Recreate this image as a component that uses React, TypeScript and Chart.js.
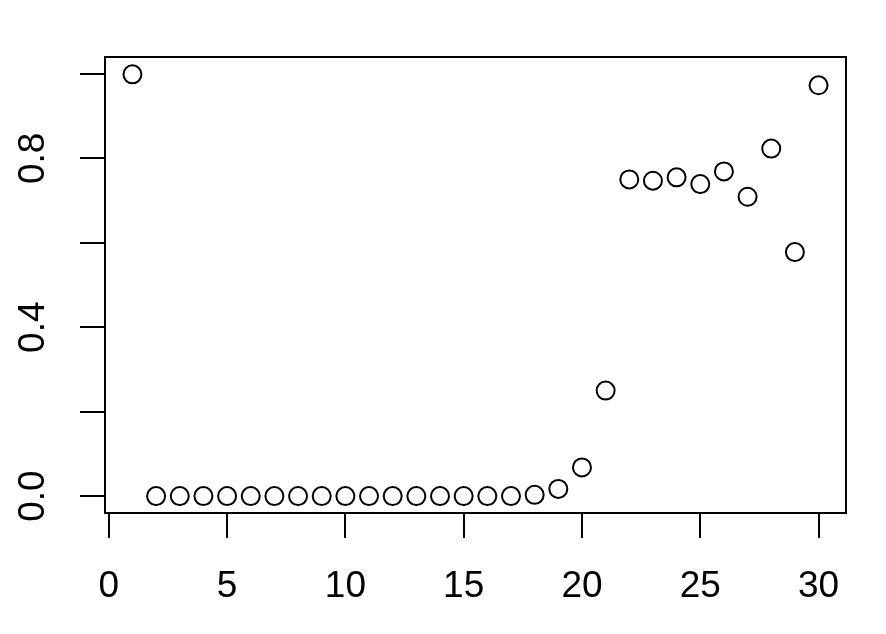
import React, { useEffect, useRef } from "react";
import { Chart, registerables } from "chart.js";

Chart.register(...registerables);

const xValues: number[] = [1, 2, 3, 4, 5, 6, 7, 8, 9, 10, 11, 12, 13, 14, 15, 16, 17, 18, 19, 20, 21, 22, 23, 24, 25, 26, 27, 28, 29, 30];
const yValues: number[] = [0.999, 0, 0, 0, 0, 0, 0, 0, 0, 0, 0, 0, 0, 0, 0, 0, 0, 0.003, 0.017, 0.068, 0.25, 0.75, 0.747, 0.755, 0.739, 0.769, 0.709, 0.823, 0.578, 0.973];
const xTicks: number[] = [0, 5, 10, 15, 20, 25, 30];
const yTicks: number[] = [0, 0.2, 0.4, 0.6, 0.8, 1.0];
const yLabelTicks: number[] = [0, 0.4, 0.8];

const FONT = "'Liberation Sans', Arial, sans-serif";

export default function App() {
  const ref = useRef<HTMLCanvasElement | null>(null);
  useEffect(() => {
    if (!ref.current) return;
    const boxPlugin = {
      id: "rbox",
      afterDraw(chart: any) {
        const { ctx, chartArea } = chart;
        ctx.save();
        ctx.strokeStyle = "#000";
        ctx.lineWidth = 2;
        ctx.strokeRect(chartArea.left, chartArea.top, chartArea.right - chartArea.left, chartArea.bottom - chartArea.top);
        const ys = chart.scales.y;
        ctx.fillStyle = "#000";
        ctx.font = `37px ${FONT}`;
        ctx.textAlign = "center";
        ctx.textBaseline = "middle";
        for (const v of yLabelTicks) {
          const py = ys.getPixelForValue(v);
          ctx.save();
          ctx.translate(34, py);
          ctx.rotate(-Math.PI / 2);
          ctx.fillText(v.toFixed(1), 0, 0);
          ctx.restore();
        }
        ctx.restore();
      },
    };
    const chart = new Chart(ref.current, {
      type: "scatter",
      data: {
        datasets: [
          {
            data: xValues.map((x, i) => ({ x, y: yValues[i] })),
            pointStyle: "circle",
            pointRadius: 9,
            pointBorderWidth: 2,
            pointBackgroundColor: "rgba(0,0,0,0)",
            pointBorderColor: "#000",
            clip: false as any,
          },
        ],
      },
      options: {
        animation: false,
        responsive: false,
        events: [],
        layout: { padding: { top: 57, right: 40, left: 0, bottom: 0 } },
        plugins: { legend: { display: false }, tooltip: { enabled: false } },
        scales: {
          x: {
            type: "linear",
            min: -0.16,
            max: 31.16,
            afterBuildTicks: (s: any) => {
              s.ticks = xTicks.map((v) => ({ value: v }));
            },
            afterFit: (s: any) => {
              s.height = 121;
            },
            border: { display: false },
            grid: { display: true, drawOnChartArea: false, drawTicks: true, tickLength: 25, color: "#000", lineWidth: 2 },
            ticks: {
              color: "#000",
              font: { size: 37, family: FONT },
              padding: 27,
              maxRotation: 0,
              minRotation: 0,
              autoSkip: false,
              callback: (v: any) => String(v),
            },
          },
          y: {
            type: "linear",
            min: -0.04,
            max: 1.04,
            afterBuildTicks: (s: any) => {
              s.ticks = yTicks.map((v) => ({ value: v }));
            },
            afterFit: (s: any) => {
              s.width = 105;
            },
            border: { display: false },
            grid: { display: true, drawOnChartArea: false, drawTicks: true, tickLength: 25, color: "#000", lineWidth: 2 },
            ticks: { display: true, callback: () => "", autoSkip: false },
          },
        },
      },
      plugins: [boxPlugin],
    } as any);
    return () => chart.destroy();
  }, []);
  return (
    <div style={{ position: "fixed", left: 0, top: 0, width: 886, height: 634, background: "#fff" }}>
      <canvas ref={ref} width={886} height={634} style={{ width: 886, height: 634, display: "block" }} />
    </div>
  );
}
